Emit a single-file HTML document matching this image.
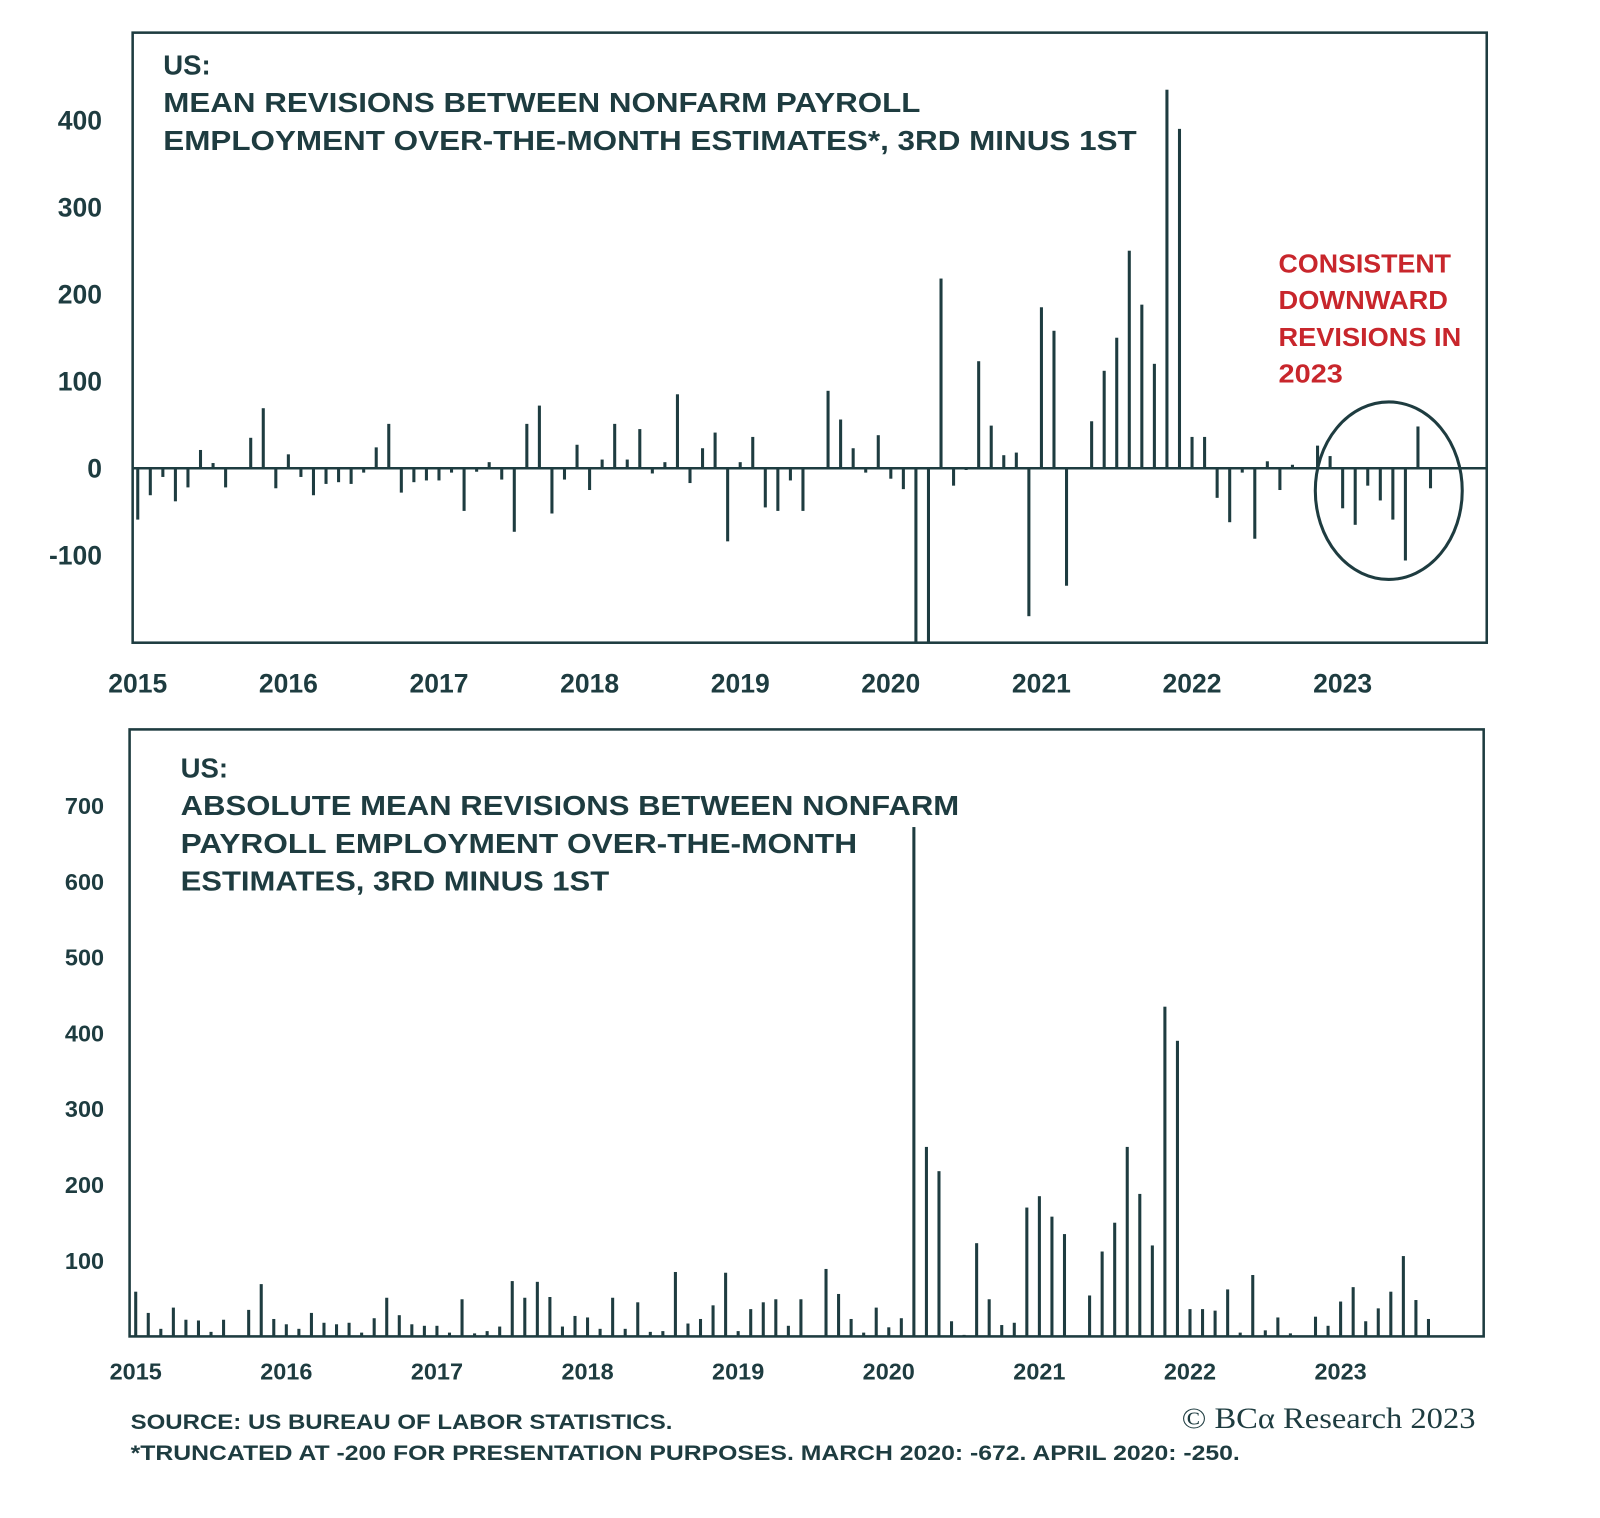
<!DOCTYPE html>
<html><head><meta charset="utf-8"><style>
html,body{margin:0;padding:0;background:#fff;}
svg{display:block;font-family:"Liberation Sans",sans-serif;}
</style></head><body>
<svg id="chart" width="1600" height="1518" viewBox="0 0 1568 1488" preserveAspectRatio="none">
<g id="top"></g>
<g id="bot"></g>
<g fill="#1e3c40" font-weight="bold" font-size="27">
<text x="160" y="73">US:</text>
<text x="160" y="110" textLength="742" lengthAdjust="spacingAndGlyphs">MEAN REVISIONS BETWEEN NONFARM PAYROLL</text>
<text x="160" y="147" textLength="954" lengthAdjust="spacingAndGlyphs">EMPLOYMENT OVER-THE-MONTH ESTIMATES*, 3RD MINUS 1ST</text>
<text x="177" y="762">US:</text>
<text x="177" y="799" textLength="763" lengthAdjust="spacingAndGlyphs">ABSOLUTE MEAN REVISIONS BETWEEN NONFARM</text>
<text x="177" y="836" textLength="663" lengthAdjust="spacingAndGlyphs">PAYROLL EMPLOYMENT OVER-THE-MONTH</text>
<text x="177" y="873" textLength="420" lengthAdjust="spacingAndGlyphs">ESTIMATES, 3RD MINUS 1ST</text>
</g>
<g fill="#c8262c" font-weight="bold" font-size="25">
<text x="1253" y="267" textLength="169" lengthAdjust="spacingAndGlyphs">CONSISTENT</text>
<text x="1253" y="303" textLength="166" lengthAdjust="spacingAndGlyphs">DOWNWARD</text>
<text x="1253" y="339" textLength="179" lengthAdjust="spacingAndGlyphs">REVISIONS IN</text>
<text x="1253" y="375" textLength="63" lengthAdjust="spacingAndGlyphs">2023</text>
</g>
<ellipse cx="1361" cy="481" rx="72" ry="87" fill="none" stroke="#1e3c40" stroke-width="3"/>
<g fill="#1e3c40" font-size="21" font-weight="bold">
<text x="128" y="1401" textLength="531" lengthAdjust="spacingAndGlyphs">SOURCE: US BUREAU OF LABOR STATISTICS.</text>
<text x="128" y="1431" textLength="1087" lengthAdjust="spacingAndGlyphs">*TRUNCATED AT -200 FOR PRESENTATION PURPOSES. MARCH 2020: -672. APRIL 2020: -250.</text>
</g>
<text x="1158" y="1400" font-family="Liberation Serif,serif" font-size="29" fill="#1e3c40" textLength="288" lengthAdjust="spacingAndGlyphs">© BCα Research 2023</text>
</svg>
<script>
const years = ["2015","2016","2017","2018","2019","2020","2021","2022","2023"];
const topTicks = [400,300,200,100,0,-100];
const botTicks = [700,600,500,400,300,200,100];
const v2015 = [-59,-31,-10,-38,-22,21,6,-22,1,35,69,-23];
const v2016 = [16,-10,-31,-18,-16,-18,-5,24,51,-28,-16,-14];
const v2017 = [-14,-5,-49,-4,7,-13,-73,51,72,-52,-13,27];
const v2018 = [-25,10,51,10,45,-6,7,85,-17,23,41,-84];
const v2019 = [7,36,-45,-49,-14,-49,0,89,56,23,-5,38];
const v2020 = [-12,-24,-672,-250,218,-20,-2,123,49,15,18,-170];
const v2021 = [185,158,-135,1,54,112,150,250,188,120,435,390];
const v2022 = [36,36,-34,-62,-5,-81,8,-25,4,0,26,14];
const v2023 = [-46,-65,-20,-37,-59,-106,48,-23];
const values = [].concat(v2015,v2016,v2017,v2018,v2019,v2020,v2021,v2022,v2023);
const NS="http://www.w3.org/2000/svg";
const C="#1e3c40";
function mk(p,t,a){const e=document.createElementNS(NS,t);for(const k in a)e.setAttribute(k,a[k]);p.appendChild(e);return e;}
const T=document.getElementById('top');
const tx=i=>135+i*12.3;
const ty=v=>459-Math.max(v,-200)*0.853;
const B=document.getElementById('bot');
const bx=i=>133+i*12.3;
const by=v=>1310-v*0.743;
values.forEach((v,i)=>{
  const y0=ty(0),y1=ty(v);
  const r=mk(T,'rect',{x:tx(i)-1.5,y:Math.min(y0,y1),width:3,height:Math.abs(y1-y0),fill:C});
  
  
  const a=Math.abs(v);
  const r2=mk(B,'rect',{x:bx(i)-1.5,y:by(a),width:3,height:1310-by(a),fill:C});
  
  
});
const z=mk(T,'line',{x1:130,x2:1457,y1:ty(0),y2:ty(0),stroke:C,'stroke-width':2.5});


const f1=mk(T,'rect',{x:130,y:32,width:1327,height:598,fill:'none',stroke:C,'stroke-width':2.5});


const f2=mk(B,'rect',{x:127,y:715,width:1327,height:595,fill:'none',stroke:C,'stroke-width':2.5});


topTicks.forEach(t=>{
  const e=mk(T,'text',{x:100,y:ty(t)+9,'text-anchor':'end','font-size':26,'font-weight':'bold',fill:C});
  e.textContent=t;
  
  
});
botTicks.forEach(t=>{
  const e=mk(B,'text',{x:102,y:by(t)+8,'text-anchor':'end','font-size':23,'font-weight':'bold',fill:C});
  e.textContent=t;
  
  
});
years.forEach((y,k)=>{
  const e=mk(T,'text',{x:tx(k*12),y:679,'text-anchor':'middle','font-size':26,'font-weight':'bold',fill:C});
  e.textContent=y;
  
  
  const e2=mk(B,'text',{x:bx(k*12),y:1352,'text-anchor':'middle','font-size':23,'font-weight':'bold',fill:C});
  e2.textContent=y;
  
  
});
</script>
</body></html>
